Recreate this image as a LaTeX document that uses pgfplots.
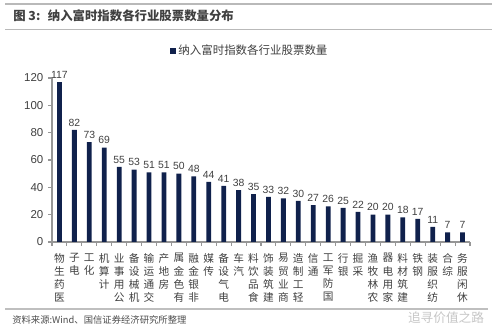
\documentclass[border=0pt]{standalone}
\usepackage{fontspec}
\setmainfont{Liberation Sans}
\newfontfamily\cjk{Noto Sans CJK SC}
\usepackage{pgfplots}
\pgfplotsset{compat=1.18}
\definecolor{barc}{RGB}{16,33,76}
\definecolor{txt}{RGB}{64,64,64}
\definecolor{axc}{RGB}{150,150,150}
\begin{document}
\begin{tikzpicture}
\path[use as bounding box] (0,0) rectangle (375pt,246pt);
\draw[line width=1.5pt, gray!55] (3.75pt,243pt) -- (369pt,243pt);
\node[anchor=west, font=\cjk\bfseries\fontsize{9.3}{11}\selectfont, text=black!75, inner sep=0pt] at (9.75pt,234pt) {图 3:\hspace{0.6em}纳入富时指数各行业股票数量分布};
\draw[line width=1.2pt, gray!55] (3.75pt,224pt) -- (369pt,224pt);
\begin{axis}[
  at={(39pt,64.5pt)}, anchor=south west,
  scale only axis, width=313.5pt, height=123pt,
  ymin=0, ymax=120, ytick={0,20,...,120},
  xmin=-0.5, xmax=27.5,
  xtick={-0.5,0.5,...,27.5},
  x tick label as interval,
  xticklabels={{物\\生\\药\\医},{子\\电},{工\\化},{机\\算\\计},{业\\事\\用\\公},{备\\设\\械\\机},{输\\运\\通\\交},{产\\地\\房},{属\\金\\色\\有},{融\\金\\银\\非},{媒\\传},{备\\设\\气\\电},{车\\汽},{料\\饮\\品\\食},{饰\\装\\筑\\建},{易\\贸\\业\\商},{造\\制\\工\\轻},{信\\通},{工\\军\\防\\国},{行\\银},{掘\\采},{渔\\牧\\林\\农},{器\\电\\用\\家},{料\\材\\筑\\建},{铁\\钢},{装\\服\\织\\纺},{合\\综},{务\\服\\闲\\休}},
  xticklabel style={font=\cjk\fontsize{8}{9.9}\selectfont, align=center, text=txt, anchor=north, yshift=-2pt},
  yticklabel style={font=\fontsize{8.6}{10}\selectfont, text=txt},
  /pgf/number format/assume math mode=true,
  axis lines*=left,
  axis line style={axc, line width=1.1pt},
  tick align=outside,
  major tick length=3pt,
  tick style={axc, line width=0.8pt},
  nodes near coords,
  every node near coord/.append style={font=\fontsize{7.8}{9}\selectfont, text=txt, inner sep=2.5pt},
  legend style={at={(0.474,1.165)}, anchor=center, draw=none, fill=none, font=\cjk\fontsize{8.6}{10}\selectfont, text=txt, inner sep=0pt},
  clip=false,
]
\addplot[ybar, bar width=3.6pt, fill=barc, draw=none,
  legend image code/.code={\fill[barc] (0pt,-2.1pt) rectangle (4.2pt,2.1pt);}]
coordinates {(0,117) (1,82) (2,73) (3,69) (4,55) (5,53) (6,51) (7,51) (8,50) (9,48) (10,44) (11,41) (12,38) (13,35) (14,33) (15,32) (16,30) (17,27) (18,26) (19,25) (20,22) (21,20) (22,20) (23,18) (24,17) (25,11) (26,7) (27,7)};
\addlegendentry{纳入富时指数各行业股票数量}
\end{axis}
\draw[line width=0.8pt, gray!50] (3.75pt,14.25pt) -- (366pt,14.25pt);
\node[anchor=west, font=\cjk\fontsize{7}{8}\selectfont, text=black!70, inner sep=0pt] at (9pt,6pt) {资料来源:Wind、国信证券经济研究所整理};
\node[font=\cjk\fontsize{9.5}{10}\selectfont, text=gray!45, inner sep=0pt] at (334.5pt,8pt) {追寻价值之路};
\end{tikzpicture}
\end{document}
